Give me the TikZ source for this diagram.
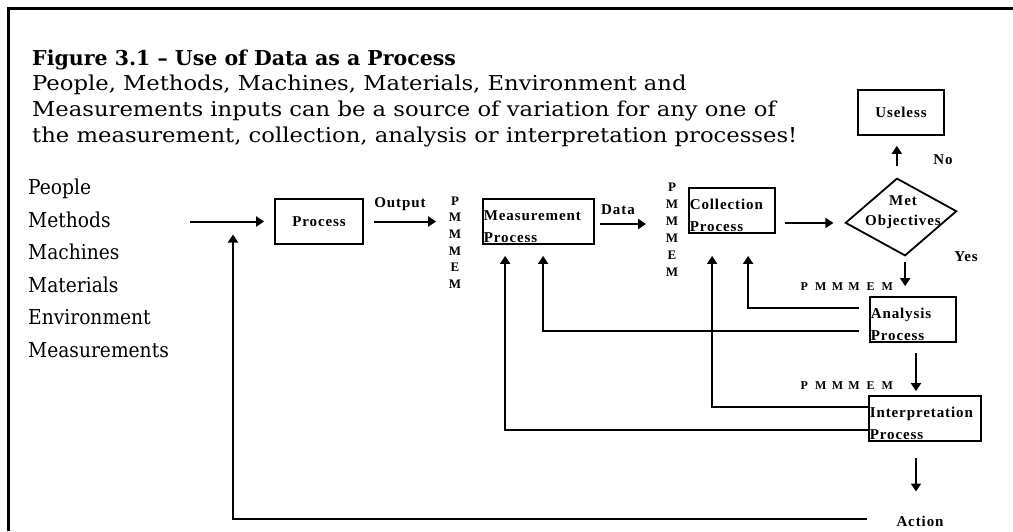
\documentclass[tikz,border=0pt]{standalone}
\usepackage{fontspec}
\setmainfont{DejaVu Serif}
\newfontfamily\widefont[FakeStretch=1.107]{DejaVu Serif}
\newfontfamily\narrowfont[FakeStretch=0.91]{DejaVu Serif}
\newfontfamily\dfont[LetterSpace=6]{Liberation Serif}
\usetikzlibrary{arrows.meta,calc,shapes.geometric}
\newcommand{\pmrow}{\makebox[16.6pt]{P}\makebox[16.6pt]{M}\makebox[16.6pt]{M}\makebox[16.6pt]{M}\makebox[16.6pt]{E}\makebox[16.6pt]{M}}
\begin{document}
\begin{tikzpicture}[x=1pt,y=-1pt,
  ttl/.style={font=\bfseries\fontsize{20.5}{25}\selectfont, inner sep=0pt, anchor=base west},
  txt/.style={font=\widefont\fontsize{20.5}{25}\selectfont, inner sep=0pt, anchor=base west},
  lst/.style={font=\narrowfont\fontsize{20.5}{25}\selectfont, inner sep=0pt, anchor=base west},
  box/.style={draw, line width=1.8pt, inner sep=0pt, font=\dfont\bfseries\fontsize{15}{22}\selectfont},
  btext/.style={font=\dfont\bfseries\fontsize{15}{22}\selectfont, inner sep=0pt, align=left, anchor=south west},
  lbl/.style={font=\dfont\bfseries\fontsize{15}{20}\selectfont, inner sep=0pt},
  pm/.style={font=\dfont\bfseries\fontsize{13}{16.7}\selectfont, inner sep=0pt, align=center},
  arr/.style={line width=2pt, -{Triangle[length=8pt,width=10pt]}},
  fb/.style={line width=2.3pt, -{Triangle[length=8pt,width=10pt]}}]
\useasboundingbox (0,0) rectangle (1013,531);
\draw[line width=3pt] (8,531) -- (8,8) -- (1013,8);

% title block
\node[ttl] (t1) at (32,65) {Figure 3.1 – Use of Data as a Process};
\node[txt] (t2) at (32,90) {People, Methods, Machines, Materials, Environment and};
\node[txt] (t3) at (32,116) {Measurements inputs can be a source of variation for any one of};
\node[txt] (t4) at (32,142) {the measurement, collection, analysis or interpretation processes!};

% inputs list
\node[lst] (l1) at (28,194) {People};
\node[lst] (l2) at (28,227) {Methods};
\node[lst] (l3) at (28,259) {Machines};
\node[lst] (l4) at (28,292) {Materials};
\node[lst] (l5) at (28,324) {Environment};
\node[lst] (l6) at (28,357) {Measurements};

% boxes
\node[box, minimum width=88pt, minimum height=45pt] (proc) at (319,221.5) {Process};
\node[box, minimum width=111pt, minimum height=45pt] (meas) at (538.5,221.5) {};
\node[btext] (meastx) at ($(meas.south west)+(1.5,-2)$) {Measurement\\Process};
\node[box, minimum width=86pt, minimum height=45pt] (coll) at (732,210.5) {};
\node[btext] (colltx) at ($(coll.south west)+(1.5,-2)$) {Collection\\Process};
\node[draw, diamond, line width=1.8pt, inner sep=0pt, minimum width=112pt, minimum height=78pt, rotate=6] (dia) at (901,217) {};
\node[pm, font=\dfont\bfseries\fontsize{15}{20}\selectfont] (diatx) at (903,212) {Met\\Objectives};
\node[box, minimum width=86pt, minimum height=45pt] (use) at (901,112.5) {Useless};
\node[box, minimum width=86pt, minimum height=45pt] (ana) at (913,319.5) {};
\node[btext] (anatx) at ($(ana.south west)+(1.5,-2)$) {Analysis\\Process};
\node[box, minimum width=112pt, minimum height=45pt] (interp) at (925,418.5) {};
\node[btext] (interptx) at ($(interp.south west)+(1.5,-2)$) {Interpretation\\Process};
\node[lbl] (action) at (920,521) {Action};

% labels
\node[lbl] (out) at (400,204) {Output};
\node[lbl] (data) at (618,210) {Data};
\node[lbl] (no) at (943,160) {No};
\node[lbl] (yes) at (966,257) {Yes};
\node[pm] (pm1) at (455,242.5) {P\\M\\M\\M\\E\\M};
\node[pm, font=\dfont\bfseries\fontsize{13}{17}\selectfont] (pm2) at (672,229.5) {P\\M\\M\\M\\E\\M};
\node[pm, font=\dfont\bfseries\fontsize{12}{16}\selectfont] (pmh1) at (845.8,287) {\pmrow};
\node[pm, font=\dfont\bfseries\fontsize{12}{16}\selectfont] (pmh2) at (845.8,386) {\pmrow};

% main flow
\coordinate (inS) at (190,221.5);
\draw[arr] (inS) -- ($(proc.west)+(-10,0)$);
\draw[arr] ($(proc.east)+(10,0)$) -- ($(meas.west)+(-46,0)$);
\draw[arr] ($(meas.east)+(5,2.5)$) -- ($(coll.west |- meas.east)+(-42,2.5)$);
\draw[arr] ($(coll.east |- dia.west)+(9,0)$) -- ($(dia.west)+(-11,0)$);
\draw[arr] ($(dia.north)+(0,-11)$) -- ($(use.south -| dia.north)+(0,10)$);
\draw[arr] ($(dia.south)+(0,5)$) -- ($(ana.north -| dia.south)+(0,-10)$);
\draw[arr] ($(ana.south)+(3,10)$) -- ($(interp.north -| ana.south)+(3,-4)$);
\draw[arr] ($(interp.south)+(-9,16)$) -- ($(action.north -| interp.south)+(-9,-24)$);

% feedback loops
\draw[fb] ($(ana.west)+(-10,-11.5)$) -| ($(coll.south west)+(60,22)$);
\draw[fb] ($(ana.west)+(-10,11.5)$) -| ($(meas.south west)+(61,11)$);
\draw[fb] ($(interp.west)+(0,-11.5)$) -| ($(coll.south west)+(24,22)$);
\draw[fb] ($(interp.west)+(0,11.5)$) -| ($(meas.south west)+(23,11)$);
\draw[fb] ($(action.west)+(-29,-2)$) -| ($(inS)+(43,13)$);
\end{tikzpicture}
\end{document}
